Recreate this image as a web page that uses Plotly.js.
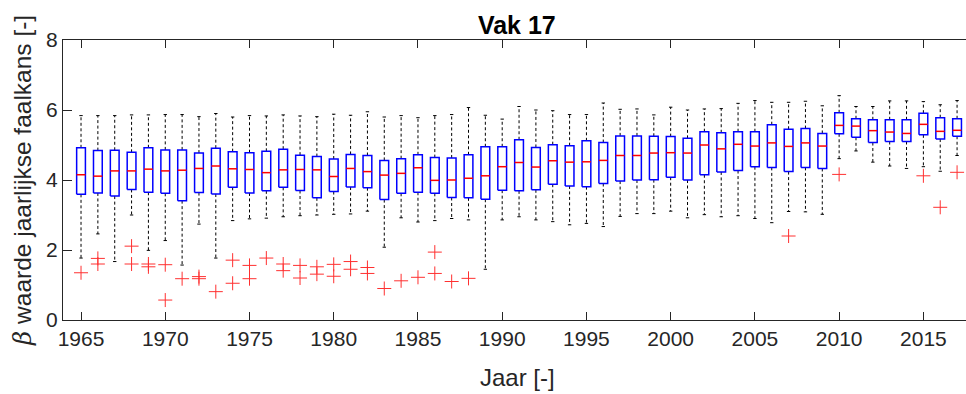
<!DOCTYPE html>
<html>
<head>
<meta charset="utf-8">
<script src="https://cdn.plot.ly/plotly-3.0.1.min.js"></script>
<style>html,body{margin:0;padding:0;overflow:hidden;background:#fff}</style>
</head>
<body>
<div id="chart" style="width:966px;height:394px"></div>
<script>
var years = [1965,1966,1967,1968,1969,1970,1971,1972,1973,1974,1975,1976,1977,1978,1979,1980,1981,1982,1983,1984,1985,1986,1987,1988,1989,1990,1991,1992,1993,1994,1995,1996,1997,1998,1999,2000,2001,2002,2003,2004,2005,2006,2007,2008,2009,2010,2011,2012,2013,2014,2015,2016,2017];
var upperWhisker = [5.84,5.84,5.84,5.86,5.86,5.87,5.87,5.81,5.90,5.80,5.84,5.83,5.86,5.83,5.81,5.88,5.85,5.95,5.80,5.84,5.78,5.84,5.87,6.07,5.85,5.74,6.10,6.00,5.98,5.87,5.87,6.20,6.02,6.03,5.86,6.08,6.00,6.03,6.04,6.19,6.27,6.22,6.22,6.25,6.12,6.41,6.10,6.10,6.26,6.26,6.24,6.15,6.27];
var q3 = [4.92,4.84,4.85,4.79,4.92,4.86,4.86,4.77,4.91,4.81,4.78,4.82,4.88,4.71,4.67,4.60,4.73,4.70,4.56,4.61,4.72,4.64,4.63,4.72,4.95,4.95,5.15,4.93,5.01,4.98,5.12,5.07,5.26,5.26,5.25,5.24,5.19,5.38,5.35,5.38,5.38,5.58,5.45,5.47,5.33,5.92,5.75,5.72,5.72,5.72,5.91,5.78,5.75];
var medians = [4.15,4.11,4.26,4.26,4.31,4.26,4.28,4.33,4.40,4.32,4.30,4.21,4.29,4.30,4.29,4.10,4.33,4.24,4.14,4.19,4.35,3.99,4.00,4.05,4.12,4.38,4.50,4.37,4.55,4.51,4.52,4.56,4.70,4.70,4.77,4.78,4.77,5.00,4.89,5.02,4.97,5.06,4.96,5.06,4.97,5.56,5.54,5.41,5.37,5.33,5.59,5.39,5.42];
var q1 = [3.59,3.63,3.54,3.73,3.65,3.62,3.41,3.64,3.60,3.79,3.63,3.69,3.79,3.70,3.49,3.67,3.80,3.78,3.44,3.62,3.65,3.62,3.50,3.49,3.45,3.71,3.69,3.72,3.88,3.83,3.81,3.90,3.97,4.00,4.01,4.08,4.00,4.15,4.23,4.27,4.38,4.36,4.24,4.36,4.33,5.32,5.22,5.07,5.10,5.10,5.29,5.17,5.25];
var lowerWhisker = [1.77,2.46,1.67,3.00,1.99,2.27,1.57,2.74,1.77,2.84,2.89,2.91,2.95,2.98,3.00,3.02,3.03,3.11,2.08,2.92,2.80,2.84,2.90,2.86,1.45,2.86,2.95,2.86,2.81,2.72,2.76,2.67,2.96,3.04,3.04,3.11,2.92,3.01,2.95,2.98,2.90,2.78,3.10,3.09,3.02,4.61,4.83,4.51,4.40,4.33,4.38,4.25,4.70];
var outlierYears = [1965,1966,1966,1968,1968,1969,1969,1970,1970,1971,1972,1972,1973,1974,1974,1975,1975,1976,1977,1977,1978,1978,1979,1979,1980,1980,1981,1981,1982,1982,1983,1984,1985,1986,1986,1987,1988,2007,2010,2015,2016,2017];
var outlierValues = [1.35,1.76,1.60,2.11,1.60,1.60,1.52,1.58,0.57,1.18,1.24,1.18,0.81,1.71,1.05,1.56,1.18,1.77,1.60,1.41,1.56,1.20,1.52,1.31,1.59,1.25,1.67,1.45,1.50,1.33,0.90,1.12,1.22,1.94,1.33,1.10,1.19,2.40,4.16,4.12,3.22,4.22];
var xTicks = [1965,1970,1975,1980,1985,1990,1995,2000,2005,2010,2015];
var yTicks = [0,2,4,6,8];
var chartTitle = 'Vak 17';
var xTitle = 'Jaar [-]';
var yTitle = '<span style="font-family:\'DejaVu Serif\';font-style:italic">β</span> waarde jaarlijkse faalkans [-]';

var halfBox = 0.26, halfCap = 0.1;
var wx = [], wy = [], cx = [], cy = [], bx = [], by = [], mx = [], my = [];
for (var i = 0; i < years.length; i++) {
  var x = years[i];
  wx.push(x, x, null, x, x, null);
  wy.push(q3[i], upperWhisker[i], null, q1[i], lowerWhisker[i], null);
  cx.push(x - halfCap, x + halfCap, null, x - halfCap, x + halfCap, null);
  cy.push(upperWhisker[i], upperWhisker[i], null, lowerWhisker[i], lowerWhisker[i], null);
  bx.push(x - halfBox, x + halfBox, x + halfBox, x - halfBox, x - halfBox, null);
  by.push(q1[i], q1[i], q3[i], q3[i], q1[i], null);
  mx.push(x - halfBox, x + halfBox, null);
  my.push(medians[i], medians[i], null);
}

var traces = [
  {type:'scatter', mode:'lines', x:wx, y:wy, line:{color:'#000000', width:1, dash:'3px,2.5px'}, hoverinfo:'skip', showlegend:false},
  {type:'scatter', mode:'lines', x:cx, y:cy, line:{color:'#000000', width:1}, hoverinfo:'skip', showlegend:false},
  {type:'scatter', mode:'lines', x:bx, y:by, line:{color:'#0000FF', width:1.5}, hoverinfo:'skip', showlegend:false},
  {type:'scatter', mode:'lines', x:mx, y:my, line:{color:'#FF0000', width:1.5}, hoverinfo:'skip', showlegend:false},
  {type:'scatter', mode:'markers', x:outlierYears, y:outlierValues,
   marker:{symbol:'cross-thin-open', size:10, color:'#FF3030', line:{color:'#FF3030', width:1}}, hoverinfo:'skip', showlegend:false}
];

var font = "'Liberation Sans', Arial, Helvetica, sans-serif";
var layout = {
  width:966, height:394,
  margin:{l:63, r:0, t:40, b:74},
  paper_bgcolor:'#ffffff', plot_bgcolor:'#ffffff',
  font:{family:font, size:21, color:'#262626'},
  title:{text:'<b>' + chartTitle + '</b>', x:0.535, xanchor:'center', y:0.935, yanchor:'middle', font:{family:font, size:25, color:'#000000'}},
  xaxis:{
    range:[1963.93, 2017.53], tickmode:'array', tickvals:xTicks, ticktext:xTicks.map(String),
    ticks:'inside', ticklen:8, tickcolor:'#262626', tickwidth:1,
    showline:true, linecolor:'#262626', linewidth:1, mirror:'ticks',
    showgrid:false, zeroline:false,
    tickfont:{family:font, size:21, color:'#262626'}
  },
  yaxis:{
    range:[0, 8], tickmode:'array', tickvals:yTicks, ticktext:yTicks.map(String),
    ticks:'inside', ticklen:9, tickcolor:'#262626', tickwidth:1,
    showline:true, linecolor:'#262626', linewidth:1, mirror:false,
    showgrid:false, zeroline:false,
    tickfont:{family:font, size:21, color:'#262626'}
  },
  annotations:[
    {text:xTitle, xref:'paper', yref:'paper', x:0.503, y:-0.205, xanchor:'center', yanchor:'middle', showarrow:false,
     font:{family:font, size:24, color:'#262626'}},
    {text:yTitle, xref:'paper', yref:'paper', x:-0.0455, y:0.5, xanchor:'center', yanchor:'middle', textangle:-90, showarrow:false,
     font:{family:font, size:24.5, color:'#262626'}}
  ]
};

Plotly.newPlot('chart', traces, layout, {staticPlot:true, displayModeBar:false});
</script>
</body>
</html>
